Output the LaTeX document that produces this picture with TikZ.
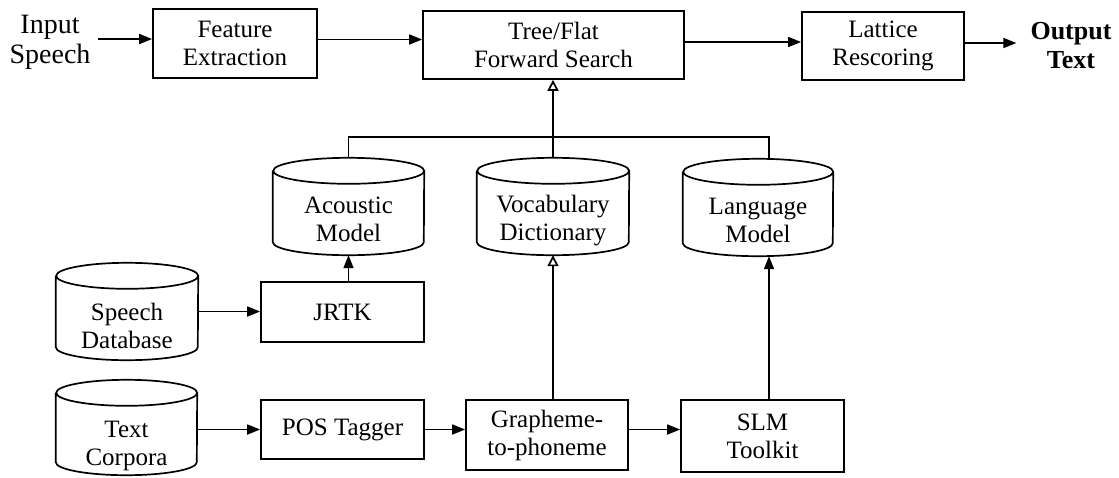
\documentclass[tikz,border=0pt]{standalone}
\usepackage{fontspec}
\setmainfont{Liberation Serif}
\usetikzlibrary{arrows.meta}
\newcommand{\cylo}[2]{%
  \draw[line width=1.7pt] ([yshift=-13pt]#1.north west) -- ([yshift=13pt]#1.south west)
    arc[start angle=180,end angle=360,x radius=#2pt,y radius=13pt]
    -- ([yshift=-13pt]#1.north east)
    arc[start angle=0,end angle=180,x radius=#2pt,y radius=13pt]
    arc[start angle=180,end angle=360,x radius=#2pt,y radius=13pt];}
\begin{document}
\begin{tikzpicture}[x=1pt,y=-1pt,
  lw/.style={line width=1.7pt},
  box/.style={draw, line width=1.7pt, align=center, inner sep=0pt, font=\fontsize{25}{28}\selectfont},
  cylbox/.style={inner sep=0pt, minimum height=97pt},
  ctext/.style={align=center, inner sep=0pt, font=\fontsize{25}{28}\selectfont},
  arr/.style={line width=1.7pt, -{Triangle[length=13pt,width=10pt]}},
  harr/.style={line width=1.7pt, -{Triangle[open,length=11pt,width=11pt]}},
  io/.style={align=center, inner sep=2pt}
]
\useasboundingbox (0,0) rectangle (1119,477);

% top row
\node[io, font=\fontsize{28}{30}\selectfont] (in) at (50,42) {Input\\Speech};
\node[box, minimum width=164pt, minimum height=69pt] (fe) at (235,43.5) {Feature\\Extraction};
\node[box, minimum width=261pt, minimum height=68pt] (tf) at (553.5,45) {Tree/Flat\\Forward Search};
\node[box, minimum width=162pt, minimum height=68pt] (lr) at (883,46) {Lattice\\Rescoring};
\node[io, font=\bfseries\fontsize{26}{29}\selectfont] (out) at (1071,46) {Output\\Text};

\draw[arr, shorten <=5pt] ([yshift=3pt]in.east) -- ([yshift=3pt]in.east -| fe.west);
\draw[arr] ([yshift=4pt]fe.east) -- ([yshift=4pt]fe.east -| tf.west);
\draw[arr] ([yshift=3pt]tf.east) -- ([yshift=3pt]tf.east -| lr.west);
\draw[arr, shorten >=12pt] ([yshift=3pt]lr.east) -- ([yshift=3pt]lr.east -| out.west);

% cylinders
\node[cylbox, minimum width=151pt] (am) at (348.5,206.5) {};
\node[cylbox, minimum width=152pt] (vd) at (553,206.5) {};
\node[cylbox, minimum width=150pt] (lm) at (758,207.5) {};
\node[cylbox, minimum width=142pt] (sd) at (127,311.5) {};
\node[cylbox, minimum width=141pt, minimum height=95pt] (tc) at (126.5,427.5) {};
\cylo{am}{75.5}
\cylo{vd}{76}
\cylo{lm}{75}
\cylo{sd}{71}
\cylo{tc}{70.5}
\node[ctext] (amt) at (348.5,219) {Acoustic\\Model};
\node[ctext] (vdt) at (553,221) {Vocabulary\\Dictionary};
\node[ctext] (lmt) at (758,220) {Language\\Model};
\node[ctext] (sdt) at (127,326) {Speech\\Database};
\node[ctext] (tct) at (126.5,446) {Text\\Corpora};

% bottom boxes
\node[box, minimum width=163pt, minimum height=60pt] (jr) at (342.5,312) {JRTK};
\node[box, minimum width=163pt, minimum height=59pt] (pos) at (342.5,429.5) {POS Tagger};
\node[box, minimum width=162pt, minimum height=70pt] (gp) at (547,435) {Grapheme-\\to-phoneme};
\node[box, minimum width=163pt, minimum height=72pt] (slm) at (762.5,436) {SLM\\Toolkit};

% connectors
\coordinate (jn) at (553,137);
\coordinate (lmc) at ([xshift=11pt]lm.north);
\draw[harr] (vd.north) -- (vd.north |- tf.south);
\draw[lw] (am.north) |- (jn) -| (lmc);
\draw[arr] (jr.north -| am.south) -- (am.south);
\draw[arr] (sd.east) -- (sd.east -| jr.west);
\draw[arr] (pos.west -| tc.east) -- (pos.west);
\draw[arr] (pos.east) -- (pos.east -| gp.west);
\draw[arr] (gp.east |- pos.east) -- (slm.west |- pos.east);
\draw[harr] (gp.north -| vd.south) -- (vd.south);
\draw[arr] (slm.north -| lmc) -- (lm.south -| lmc);
\end{tikzpicture}
\end{document}
